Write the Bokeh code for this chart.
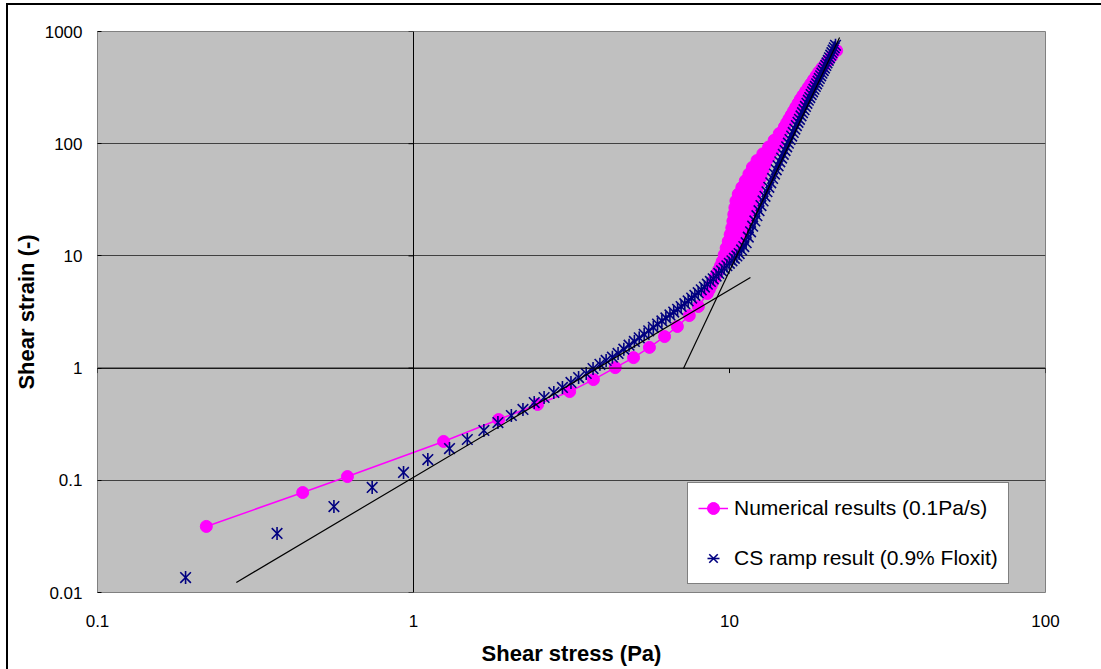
from bokeh.plotting import figure
from bokeh.models import (Range1d, Span, Legend, LegendItem, CustomJSTickFormatter,
                          FixedTicker)
from bokeh.embed import file_html
from bokeh.resources import INLINE

# Numerical model, shear stress (Pa) vs shear strain (-)
stress_num = [0.221, 0.446, 0.618, 1.245, 1.86, 2.47, 3.12, 3.71, 4.35, 4.97, 5.58, 6.23, 6.84,
              7.46, 7.97, 8.51, 8.63, 8.75, 8.87, 8.99, 9.11, 9.24, 9.36,
              9.48, 9.90, 9.62, 10.16, 9.76, 10.42, 9.91, 10.69, 10.05, 10.96, 10.56,
              10.17, 10.66, 11.17, 10.70, 10.25, 10.79, 11.37, 10.83, 10.32, 10.93,
              11.57, 10.97, 10.40, 11.07, 11.78, 11.11, 10.48, 11.21, 11.99, 11.30,
              10.66, 11.40, 12.19, 11.54, 10.94, 11.64, 12.38, 11.79, 11.22, 11.88,
              12.58, 12.04, 11.52, 12.13, 12.78, 12.29, 11.82, 12.39, 12.99, 12.60,
              12.22, 13.37, 12.75, 13.78, 13.30, 14.19, 13.84, 14.50, 14.37, 14.80,
              14.92, 15.17, 15.42, 15.68, 15.94, 16.20, 16.48, 16.75, 17.07, 17.40,
              17.74, 18.09, 18.44, 18.80, 19.17, 19.61, 20.09, 20.58, 21.09, 21.83]
strain_num = [0.0388, 0.0778, 0.108, 0.222, 0.348, 0.474, 0.618, 0.79, 1.01, 1.24, 1.53, 1.91,
              2.35, 2.94, 3.54, 4.62, 5.01, 5.43, 5.89, 6.38, 6.92, 7.50, 8.13,
              8.91, 9.55, 10.23, 10.96, 11.75, 12.59, 13.49, 14.45, 15.49, 16.60, 17.18,
              17.78, 18.41, 19.05, 19.72, 20.42, 21.13, 21.88, 22.65, 23.44, 24.27,
              25.12, 26.00, 26.92, 27.86, 28.84, 29.85, 30.90, 31.99, 33.11, 34.28,
              35.48, 36.73, 38.02, 39.36, 40.74, 42.17, 43.65, 45.19, 46.77, 48.42,
              50.12, 51.88, 53.70, 55.59, 57.54, 59.57, 61.66, 63.83, 66.07, 68.39,
              70.79, 75.86, 81.28, 87.10, 93.33, 100.0, 107.2, 114.8, 123.0, 131.8,
              141.3, 153.1, 166.0, 179.9, 195.0, 211.3, 229.1, 248.3, 269.2, 291.7,
              316.2, 342.8, 371.5, 402.7, 436.5, 473.2, 512.9, 555.9, 602.6, 676.1]

# Controlled-stress ramp measurement
stress_cs = [0.19, 0.37, 0.56, 0.74, 0.93, 1.11, 1.30, 1.48, 1.67, 1.85,
             2.04, 2.22, 2.41, 2.59, 2.78, 2.96, 3.15, 3.33, 3.52, 3.70,
             3.89, 4.07, 4.26, 4.44, 4.63, 4.81, 5.00, 5.18, 5.37, 5.55,
             5.74, 5.92, 6.11, 6.29, 6.48, 6.66, 6.85, 7.03, 7.22, 7.40,
             7.59, 7.77, 7.96, 8.14, 8.33, 8.51, 8.70, 8.88, 9.07, 9.25,
             9.44, 9.62, 9.81, 9.99, 10.18, 10.36, 10.55, 10.73, 10.92, 11.10,
             11.29, 11.47, 11.66, 11.84, 12.03, 12.21, 12.40, 12.58, 12.77, 12.95,
             13.14, 13.32, 13.51, 13.69, 13.88, 14.06, 14.25, 14.43, 14.62, 14.80,
             14.99, 15.17, 15.36, 15.54, 15.73, 15.91, 16.10, 16.28, 16.47, 16.65,
             16.84, 17.02, 17.21, 17.39, 17.58, 17.76, 17.95, 18.13, 18.32, 18.50,
             18.69, 18.87, 19.06, 19.24, 19.43, 19.61, 19.80, 19.98, 20.17, 20.35,
             20.54, 20.72, 20.91, 21.09, 21.28, 21.46, 21.65]
strain_cs = [0.0136, 0.0336, 0.0583, 0.0863, 0.1175, 0.153, 0.192, 0.231, 0.278, 0.327,
             0.378, 0.428, 0.493, 0.547, 0.607, 0.672, 0.745, 0.824, 0.895, 0.99,
             1.08, 1.17, 1.25, 1.35, 1.476, 1.60, 1.73, 1.86, 2.00, 2.15,
             2.31, 2.47, 2.63, 2.80, 2.98, 3.16, 3.34, 3.54, 3.75, 3.97,
             4.21, 4.45, 4.70, 4.99, 5.28, 5.60, 5.92, 6.25, 6.61, 6.98,
             7.36, 7.76, 8.17, 8.59, 9.04, 9.52, 10.0, 10.5, 11.3, 12.1,
             13.1, 14.7, 16.4, 18.4, 20.5, 22.8, 25.3, 28.1, 30.9, 34.0,
             37.3, 40.9, 44.8, 49.0, 53.6, 58.5, 63.5, 68.9, 74.5, 80.5,
             86.9, 93.8, 101, 109, 117, 126, 135, 145, 155, 165,
             177, 189, 201, 215, 229, 244, 258, 274, 290, 306,
             324, 342, 361, 382, 403, 425, 448, 472, 498, 525,
             553, 583, 615, 647, 681, 716, 753]

# Power-law tangents (low-stress and high-stress regimes)
tangent_low_x = [0.275, 11.65]
tangent_low_y = [0.0123, 6.42]
tangent_high_x = [7.15, 22.3]
tangent_high_y = [0.99, 884]

x_ticks = [0.1, 1, 10, 100]
y_ticks = [0.01, 0.1, 1, 10, 100, 1000]

FONT = "Liberation Sans"
PLOT_W, PLOT_H = 948, 561

p = figure(width=1101, height=669, x_axis_type="log", y_axis_type="log",
           x_range=Range1d(0.1, 100), y_range=Range1d(0.01, 1000),
           output_backend="svg", toolbar_location=None,
           min_border_left=97, min_border_right=56, min_border_top=31, min_border_bottom=77)
# thin black frame along the top and left of the chart area
p.styles = {"background-color": "white", "overflow": "hidden",
            "box-shadow": "inset 6px 3px 0px 0px #ffffff, inset 8px 5px 0px 0px #000000"}
p.border_fill_alpha = 0
p.background_fill_color = "#C0C0C0"
p.outline_line_color = "#808080"
p.outline_line_width = 1

p.xgrid.grid_line_color = None
p.ygrid.grid_line_color = "#404040"
p.ygrid.grid_line_width = 1
p.ygrid.ticker = FixedTicker(ticks=y_ticks)

fmt = "return String(parseFloat(tick.toPrecision(6)));"
for ax, ticks in ((p.xaxis[0], x_ticks), (p.yaxis[0], y_ticks)):
    ax.ticker = FixedTicker(ticks=ticks)
    ax.formatter = CustomJSTickFormatter(code=fmt)
    ax.axis_line_color = None
    ax.minor_tick_line_color = None
    ax.major_label_text_font = FONT
    ax.major_label_text_font_size = "17px"
    ax.major_label_text_color = "black"
    ax.axis_label_text_font = FONT
    ax.axis_label_text_font_size = "22px"
    ax.axis_label_text_font_style = "bold"
    ax.axis_label_text_color = "black"

p.xaxis.major_tick_line_color = None
p.xaxis.major_label_standoff = 16
p.xaxis.axis_label = "Shear stress (Pa)"
p.xaxis.axis_label_standoff = 11

p.yaxis.major_tick_line_color = "black"
p.yaxis.major_tick_in = 4
p.yaxis.major_tick_out = 0
p.yaxis.major_label_standoff = 15
p.yaxis.axis_label = "Shear strain (-)"
p.yaxis.axis_label_standoff = 3

# axes crossing at (1, 1)
p.add_layout(Span(location=1, dimension="height", line_color="black", line_width=1))
p.add_layout(Span(location=1, dimension="width", line_color="black", line_width=1))
tick_px = 5
fx = 10 ** (-tick_px * 3 / PLOT_W)
fy = 10 ** (-tick_px * 5 / PLOT_H)
p.segment(x0=[1] * len(y_ticks), x1=[fx] * len(y_ticks), y0=y_ticks, y1=y_ticks,
          line_color="black", line_width=1)
p.segment(x0=x_ticks, x1=x_ticks, y0=[1] * len(x_ticks), y1=[fy] * len(x_ticks),
          line_color="black", line_width=1)

num_line = p.line(stress_num, strain_num, line_color="#FF00FF", line_width=1.5)
num_pts = p.scatter(stress_num, strain_num, marker="circle", size=12,
                    fill_color="#FF00FF", line_color="#FF00FF")
cs_x = p.scatter(stress_cs, strain_cs, marker="x", size=15, line_color="#000080", line_width=1.6)
cs_bar = p.scatter(stress_cs, strain_cs, marker="dash", angle=1.5708, size=13,
                   line_color="#000080", line_width=1.6)

p.line(tangent_low_x, tangent_low_y, line_color="black", line_width=1.2)
p.line(tangent_high_x, tangent_high_y, line_color="black", line_width=1.2)

legend = Legend(items=[LegendItem(label="Numerical results (0.1Pa/s)", renderers=[num_line, num_pts]),
                       LegendItem(label="CS ramp result (0.9% Floxit)", renderers=[cs_x, cs_bar])],
                location=(590, 8), margin=0, padding=10, spacing=20,
                glyph_width=30, glyph_height=30, label_height=30, label_standoff=6,
                label_text_font=FONT, label_text_font_size="21px", label_text_color="black",
                border_line_color="black", border_line_width=1,
                background_fill_color="white", background_fill_alpha=1)
p.add_layout(legend)

open("out.html", "w").write(file_html(p, INLINE))
